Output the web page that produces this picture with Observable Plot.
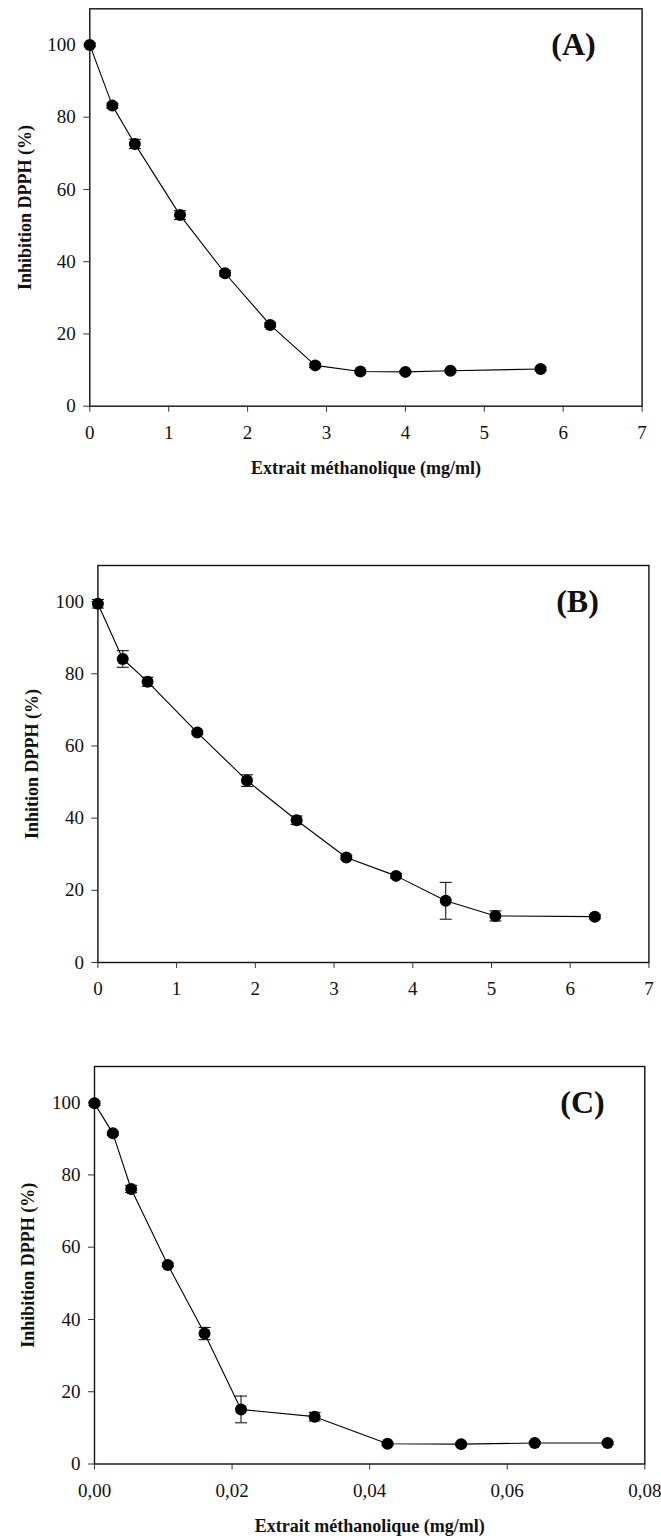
<!DOCTYPE html>
<html>
<head>
<meta charset="utf-8">
<script src="https://cdn.jsdelivr.net/npm/d3@7"></script>
<script src="https://cdn.jsdelivr.net/npm/@observablehq/plot@0.6"></script>
<style>
  body { margin: 0; background: white; }
  #wrap { position: relative; width: 661px; height: 1538px; background: white; }
  #wrap > div { position: absolute; left: 0; }
  #wrap svg [aria-label$="tick label"] { font-size: 19px !important; font-family: "Liberation Serif", "Times New Roman", serif !important; }
</style>
</head>
<body>
<div id="wrap"></div>
<script>
// ---- Data ----
const concA  = [0, 0.286, 0.571, 1.143, 1.714, 2.286, 2.857, 3.429, 4.0, 4.571, 5.714];
const inhibA = [100, 83.2, 72.6, 52.9, 36.8, 22.5, 11.3, 9.6, 9.5, 9.8, 10.3];
const errA   = [0.5, 0.7, 1.3, 1.2, 0.7, 0.6, 0.6, 0.4, 0.4, 0.4, 0.5];

const concB  = [0, 0.316, 0.631, 1.263, 1.894, 2.525, 3.156, 3.788, 4.419, 5.05, 6.313];
const inhibB = [99.4, 84.1, 77.8, 63.7, 50.4, 39.4, 29.1, 24.0, 17.1, 12.9, 12.7];
const errB   = [1.2, 2.3, 1.25, 0.5, 1.6, 1.2, 0.6, 0.7, 5.1, 1.4, 0.6];

const concC  = [0, 0.00267, 0.00533, 0.01066, 0.016, 0.0213, 0.032, 0.0426, 0.0533, 0.064, 0.0746];
const inhibC = [99.8, 91.5, 76.1, 55.1, 36.1, 15.1, 13.1, 5.6, 5.5, 5.8, 5.8];
const errC   = [0.6, 0.5, 1.0, 0.5, 1.7, 3.7, 1.2, 0.4, 0.4, 0.4, 0.4];

const yTicks   = [0, 20, 40, 60, 80, 100];
const xTicksAB = [0, 1, 2, 3, 4, 5, 6, 7];
const xTicksC  = [0, 0.02, 0.04, 0.06, 0.08];

const xTitle  = "Extrait méthanolique (mg/ml)";
const yTitleA = "Inhibition DPPH (%)";
const yTitleB = "Inhition DPPH (%)";
const yTitleC = "Inhibition DPPH (%)";

// ---- Rendering ----
const fontFamily = '"Liberation Serif", "Times New Roman", Times, serif';

const capSymbol = {
  draw(ctx, size) {
    const w = Math.sqrt(size / Math.PI);
    ctx.moveTo(-w, 0);
    ctx.lineTo(w, 0);
  }
};

function panel(cfg) {
  const rows = cfg.xs.map((x, i) => ({x, y: cfg.ys[i], e: cfg.errs[i]}));
  const marks = [
    Plot.frame({stroke: "#111", strokeWidth: 1.4}),
    Plot.axisY(yTicks, {tickSize: 6, tickPadding: 8, label: null, stroke: "#333", fontSize: 19, fill: "#111"}),
    Plot.axisX(cfg.xTicks, {tickSize: 6, tickPadding: 13, label: null, tickFormat: cfg.xFormat, stroke: "#333", fontSize: 19, fill: "#111"}),
    Plot.ruleX(rows, {x: "x", y1: d => d.y - d.e, y2: d => d.y + d.e, stroke: "black", strokeWidth: 1}),
    Plot.dot(rows, {x: "x", y: d => d.y - d.e, symbol: capSymbol, r: 6, stroke: "black", strokeWidth: 1}),
    Plot.dot(rows, {x: "x", y: d => d.y + d.e, symbol: capSymbol, r: 6, stroke: "black", strokeWidth: 1}),
    Plot.line(rows, {x: "x", y: "y", stroke: "black", strokeWidth: 1.1}),
    Plot.dot(rows, {x: "x", y: "y", r: 6, fill: "black", stroke: "none"}),
    Plot.text([cfg.yTitle], {text: d => d, frameAnchor: "left", dx: cfg.yTitleDx, rotate: -90,
      fontWeight: "bold", fontSize: 18, lineAnchor: "middle", textAnchor: "middle", fill: "#111"}),
    Plot.text([cfg.letter], {text: d => d, frameAnchor: "top-right", dx: cfg.letterDx, dy: cfg.letterDy,
      fontWeight: "bold", fontSize: 32, textAnchor: "middle", lineAnchor: "middle", fill: "#111"})
  ];
  if (cfg.xTitle) {
    marks.push(Plot.text([cfg.xTitle], {text: d => d, frameAnchor: "bottom", dy: 62,
      fontWeight: "bold", fontSize: 18, lineAnchor: "middle", textAnchor: "middle", fill: "#111"}));
  }
  const chart = Plot.plot({
    width: 661,
    height: cfg.height,
    marginTop: cfg.mt,
    marginBottom: cfg.mb,
    marginLeft: cfg.ml,
    marginRight: cfg.mr,
    style: {fontFamily, fontSize: "18px", color: "black", background: "white", overflow: "visible"},
    x: {domain: cfg.xDomain},
    y: {domain: [0, 110]},
    marks
  });
  const holder = document.createElement("div");
  holder.style.top = cfg.top + "px";
  holder.appendChild(chart);
  document.getElementById("wrap").appendChild(holder);
}

panel({xs: concA, ys: inhibA, errs: errA, xDomain: [0, 7], xTicks: xTicksAB, xFormat: d => String(d),
  yTitle: yTitleA, xTitle: xTitle, letter: "(A)",
  top: 0, height: 490, mt: 8.3, mb: 84.3, ml: 89.3, mr: 19.4, yTitleDx: -65, letterDx: -68.6, letterDy: 36});

panel({xs: concB, ys: inhibB, errs: errB, xDomain: [0, 7], xTicks: xTicksAB, xFormat: d => String(d),
  yTitle: yTitleB, xTitle: null, letter: "(B)",
  top: 500, height: 500, mt: 65, mb: 38, ml: 97.4, mr: 12.6, yTitleDx: -66, letterDx: -71.4, letterDy: 36.5});

panel({xs: concC, ys: inhibC, errs: errC, xDomain: [0, 0.08], xTicks: xTicksC,
  xFormat: d => d.toFixed(2).replace(".", ","),
  yTitle: yTitleC, xTitle: xTitle, letter: "(C)",
  top: 1000, height: 538, mt: 66, mb: 74.5, ml: 94, mr: 16.7, yTitleDx: -66, letterDx: -62.3, letterDy: 36.7});
</script>
</body>
</html>
